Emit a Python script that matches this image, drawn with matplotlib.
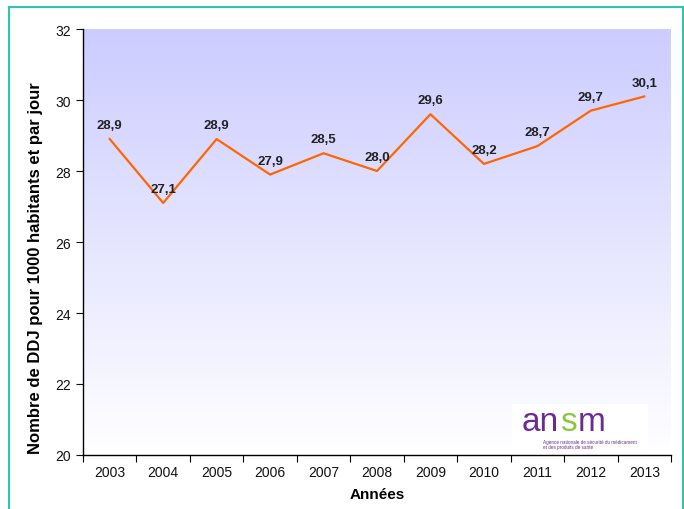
import numpy as np
import matplotlib.pyplot as plt
from matplotlib.lines import Line2D
from matplotlib.patches import Rectangle

# Data
years = ['2003', '2004', '2005', '2006', '2007', '2008', '2009', '2010', '2011', '2012', '2013']
ddj = [28.9, 27.1, 28.9, 27.9, 28.5, 28.0, 29.6, 28.2, 28.7, 29.7, 30.1]
labels = ['28,9', '27,1', '28,9', '27,9', '28,5', '28,0', '29,6', '28,2', '28,7', '29,7', '30,1']

plt.rcParams['font.family'] = ['Liberation Sans', 'DejaVu Sans']

W, H = 684, 510
fig = plt.figure(figsize=(6.84, 5.10), dpi=100)
ax = fig.add_axes([83/W, 54/H, 588/W, 426/H])

x = np.arange(len(years))

# gradient background, lavender at top to white at bottom
grad = np.linspace(0, 1, 256).reshape(-1, 1)
top = np.array([0.80, 0.80, 1.0])
bottom = np.array([1.0, 1.0, 1.0])
img = top * (1 - grad[..., None]) + bottom * grad[..., None]
ax.imshow(img, extent=[-0.5, len(years) - 0.5, 20, 32], aspect='auto', zorder=0)

ax.plot(x, ddj, color='#ff6600', linewidth=1.6, zorder=3)
for xi, v, lab in zip(x, ddj, labels):
    ax.annotate(lab, (xi, v), xytext=(0, 10), textcoords='offset points',
                ha='center', va='center', fontsize=9.5, fontweight='bold',
                color='#222222', zorder=4)

ax.set_xlim(-0.5, len(years) - 0.5)
ax.set_ylim(20, 32)
ax.set_yticks(range(20, 33, 2))
ax.set_xticks(x)
ax.set_xticklabels(years)
ax.set_xticks(np.arange(-0.5, len(years)), minor=True)
ax.tick_params(axis='x', which='major', length=0, labelsize=10, pad=7, colors='#111111')
ax.tick_params(axis='x', which='minor', length=5, direction='out', width=0.8)
ax.tick_params(axis='y', length=5, direction='out', width=0.8, labelsize=10, colors='#111111')

ax.spines['top'].set_visible(False)
ax.spines['right'].set_visible(False)
ax.spines['left'].set_linewidth(1)
ax.spines['bottom'].set_linewidth(1)

ax.set_xlabel('Années', fontsize=11, fontweight='bold', labelpad=6)
ax.set_ylabel('Nombre de DDJ pour 1000 habitants et par jour', fontsize=12,
              fontweight='bold')
ax.yaxis.set_label_coords(-0.068, 0.441)

# ansm logo
fig.patches.append(Rectangle((512/W, 1 - 452/H), 136/W, 47/H, transform=fig.transFigure,
                             facecolor='white', edgecolor='none', zorder=5))
base = 1 - 431/H
fig.text(522/W, base, 'an', fontsize=24, color='#6b2c8f', va='baseline', zorder=6)
fig.text(560/W, base, 's', fontsize=24, color='#8cc63f', va='baseline', zorder=6)
fig.text(578/W, base, 'm', fontsize=24, color='#6b2c8f', va='baseline', zorder=6)
fig.text(543/W, 1 - 440/H, 'Agence nationale de sécurité du médicament\net des produits de santé',
         fontsize=3.3, color='#6b2c8f', va='top', zorder=6, linespacing=1.1)

# teal frame around the figure
teal = '#2ec4b0'
fig.lines.append(Line2D([9/W, 9/W], [0, 1 - 8/H], transform=fig.transFigure, color=teal, lw=1.5))
fig.lines.append(Line2D([9/W, 683/W], [1 - 8/H, 1 - 8/H], transform=fig.transFigure, color=teal, lw=1.5))
fig.lines.append(Line2D([683/W, 683/W], [0, 1 - 8/H], transform=fig.transFigure, color=teal, lw=1.5))

fig.savefig('out.png', dpi=100)
